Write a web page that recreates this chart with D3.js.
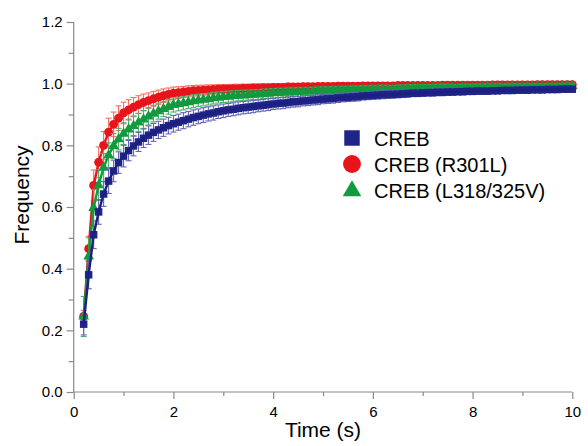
<!DOCTYPE html>
<html><head><meta charset="utf-8">
<script src="https://cdn.jsdelivr.net/npm/d3@7"></script>
<style>
html,body{margin:0;padding:0;background:#fff;}
svg text{font-family:"Liberation Sans",Arial,sans-serif;fill:#000;}
</style></head>
<body>
<svg id="chart" width="588" height="446"></svg>
<script>
const times = [0.2,0.3,0.4,0.5,0.6,0.7,0.8,0.9,1.0,
1.1,1.2,1.3,1.4,1.5,1.6,1.7,1.8,1.9,2.0,
2.1,2.2,2.3,2.4,2.5,2.6,2.7,2.8,2.9,3.0,
3.1,3.2,3.3,3.4,3.5,3.6,3.7,3.8,3.9,4.0,
4.1,4.2,4.3,4.4,4.5,4.6,4.7,4.8,4.9,5.0,
5.1,5.2,5.3,5.4,5.5,5.6,5.7,5.8,5.9,6.0,
6.1,6.2,6.3,6.4,6.5,6.6,6.7,6.8,6.9,7.0,
7.1,7.2,7.3,7.4,7.5,7.6,7.7,7.8,7.9,8.0,
8.1,8.2,8.3,8.4,8.5,8.6,8.7,8.8,8.9,9.0,
9.1,9.2,9.3,9.4,9.5,9.6,9.7,9.8,9.9,10.0];

const crebValues = [0.220,0.380,0.510,0.584,0.642,0.684,0.717,0.744,0.765,
0.783,0.798,0.811,0.823,0.833,0.842,0.850,0.857,0.864,0.870,
0.875,0.880,0.885,0.890,0.894,0.898,0.902,0.905,0.909,0.912,
0.915,0.917,0.920,0.922,0.924,0.926,0.928,0.930,0.932,0.934,
0.936,0.937,0.939,0.941,0.942,0.944,0.945,0.947,0.948,0.950,
0.951,0.952,0.954,0.955,0.956,0.957,0.958,0.960,0.961,0.962,
0.963,0.964,0.965,0.965,0.966,0.967,0.968,0.969,0.969,0.970,
0.971,0.971,0.972,0.972,0.973,0.973,0.974,0.974,0.975,0.975,
0.976,0.976,0.976,0.977,0.977,0.978,0.978,0.978,0.979,0.979,
0.979,0.980,0.980,0.980,0.981,0.981,0.981,0.982,0.982,0.982];

const crebErr = [0.035,0.045,0.045,0.040,0.040,0.040,0.035,0.035,0.035,
0.033,0.032,0.031,0.030,0.030,0.029,0.028,0.028,0.027,0.027,
0.026,0.026,0.025,0.025,0.024,0.024,0.023,0.023,0.022,0.022,
0.021,0.021,0.021,0.020,0.020,0.020,0.019,0.019,0.019,0.018,
0.018,0.018,0.017,0.017,0.017,0.016,0.016,0.016,0.016,0.015,
0.015,0.015,0.015,0.014,0.014,0.014,0.014,0.013,0.013,0.013,
0.013,0.013,0.013,0.012,0.012,0.012,0.012,0.011,0.011,0.011,
0.011,0.011,0.011,0.011,0.011,0.010,0.010,0.010,0.010,0.010,
0.010,0.010,0.010,0.010,0.010,0.009,0.009,0.009,0.009,0.009,
0.009,0.009,0.009,0.009,0.009,0.008,0.008,0.008,0.008,0.008];

const r301lValues = [0.245,0.465,0.670,0.745,0.800,0.843,0.868,0.888,0.905,
0.915,0.924,0.932,0.939,0.945,0.951,0.956,0.961,0.965,0.969,
0.971,0.973,0.975,0.977,0.978,0.979,0.980,0.981,0.982,0.983,
0.983,0.984,0.984,0.985,0.985,0.986,0.986,0.987,0.987,0.988,
0.988,0.988,0.989,0.989,0.989,0.990,0.990,0.990,0.991,0.991,
0.991,0.991,0.992,0.992,0.992,0.992,0.992,0.993,0.993,0.993,
0.993,0.993,0.993,0.993,0.994,0.994,0.994,0.994,0.994,0.994,
0.994,0.994,0.994,0.995,0.995,0.995,0.995,0.995,0.995,0.995,
0.995,0.995,0.995,0.996,0.996,0.996,0.996,0.996,0.996,0.996,
0.996,0.996,0.997,0.997,0.997,0.997,0.997,0.997,0.997,0.997];

const r301lErr = [0.020,0.040,0.050,0.050,0.045,0.045,0.040,0.040,0.035,
0.033,0.031,0.029,0.027,0.025,0.024,0.023,0.022,0.021,0.020,
0.019,0.018,0.018,0.017,0.017,0.016,0.016,0.015,0.015,0.014,
0.014,0.014,0.014,0.013,0.013,0.013,0.013,0.012,0.012,0.012,
0.012,0.012,0.012,0.011,0.011,0.011,0.011,0.010,0.010,0.010,
0.010,0.010,0.010,0.010,0.010,0.009,0.009,0.009,0.009,0.009,
0.009,0.009,0.009,0.009,0.009,0.008,0.008,0.008,0.008,0.008,
0.008,0.008,0.008,0.008,0.008,0.008,0.008,0.008,0.008,0.008,
0.007,0.007,0.007,0.007,0.007,0.007,0.007,0.007,0.007,0.007,
0.007,0.007,0.007,0.007,0.007,0.007,0.007,0.007,0.007,0.007];

const l318Values = [0.245,0.440,0.597,0.671,0.728,0.768,0.798,0.820,0.838,
0.852,0.863,0.874,0.884,0.894,0.903,0.911,0.918,0.925,0.931,
0.934,0.937,0.940,0.943,0.946,0.948,0.950,0.953,0.955,0.957,
0.958,0.960,0.961,0.962,0.963,0.964,0.965,0.967,0.968,0.969,
0.970,0.971,0.972,0.972,0.973,0.974,0.975,0.975,0.976,0.977,
0.977,0.978,0.978,0.979,0.979,0.980,0.980,0.981,0.981,0.982,
0.982,0.983,0.983,0.983,0.984,0.984,0.985,0.985,0.985,0.986,
0.986,0.986,0.987,0.987,0.987,0.987,0.987,0.988,0.988,0.988,
0.988,0.988,0.989,0.989,0.989,0.989,0.989,0.990,0.990,0.990,
0.990,0.990,0.991,0.991,0.991,0.991,0.991,0.992,0.992,0.992];

const l318Err = [0.065,0.060,0.060,0.050,0.045,0.040,0.040,0.035,0.035,
0.033,0.032,0.030,0.029,0.028,0.027,0.026,0.025,0.024,0.023,
0.022,0.022,0.021,0.021,0.020,0.020,0.019,0.019,0.018,0.018,
0.018,0.017,0.017,0.017,0.016,0.016,0.016,0.015,0.015,0.015,
0.015,0.014,0.014,0.014,0.014,0.013,0.013,0.013,0.013,0.013,
0.012,0.012,0.012,0.012,0.012,0.012,0.012,0.012,0.012,0.012,
0.012,0.012,0.011,0.011,0.011,0.011,0.011,0.011,0.011,0.011,
0.011,0.011,0.011,0.011,0.011,0.010,0.010,0.010,0.010,0.010,
0.010,0.010,0.010,0.010,0.010,0.010,0.010,0.010,0.010,0.010,
0.009,0.009,0.009,0.009,0.009,0.009,0.009,0.009,0.009,0.009];

const seriesNames = ["CREB", "CREB (R301L)", "CREB (L318/325V)"];
const xTickLabels = ["0","2","4","6","8","10"];
const yTickLabels = ["0.0","0.2","0.4","0.6","0.8","1.0","1.2"];

const series = [
  {name: seriesNames[1], values: r301lValues, err: r301lErr, color: "#e8131b", errColor: "#f0705e", lineColor: "#e8131b", symbol: d3.symbolCircle, size: 62, legendSize: 250},
  {name: seriesNames[2], values: l318Values, err: l318Err, color: "#129a3e", errColor: "#48b06a", lineColor: "#129a3e", symbol: d3.symbolTriangle, size: 50, legendSize: 150},
  {name: seriesNames[0], values: crebValues, err: crebErr, color: "#1f2488", errColor: "#6464b4", lineColor: "#1c1f7e", symbol: d3.symbolSquare, size: 56, legendSize: 240}
];

const svg = d3.select("#chart");
const margin = {left: 73.7, top: 22, right: 15.7, bottom: 54};
const W = 588, H = 446;
const x = d3.scaleLinear().domain([0, 10]).range([margin.left, W - margin.right]);
const y = d3.scaleLinear().domain([0, 1.2]).range([H - margin.bottom, margin.top]);
const axisColor = "#8a8a8a";

// axes
const xAxis = d3.axisBottom(x).tickValues(d3.range(0, 10.01, 1)).tickSize(6)
  .tickFormat(d => (Math.round(d) % 2 === 0 ? xTickLabels[Math.round(d) / 2] : ""));
const gx = svg.append("g").attr("transform", `translate(0,${y(0)})`).call(xAxis);
gx.selectAll(".tick line").attr("y2", (d) => Math.round(d) % 2 === 0 ? 7 : 4);
const yAxis = d3.axisLeft(y).tickValues(d3.range(0, 1.201, 0.1)).tickSize(6)
  .tickFormat(d => { const k = Math.round(d * 10); return k % 2 === 0 ? yTickLabels[k / 2] : ""; });
const gy = svg.append("g").attr("transform", `translate(${x(0)},0)`).call(yAxis);
gy.selectAll(".tick line").attr("x2", d => Math.round(d * 10) % 2 === 0 ? -7 : -5);
[gx, gy].forEach(g => {
  g.select(".domain").attr("stroke", axisColor).attr("stroke-width", 1.2);
  g.selectAll(".tick line").attr("stroke", axisColor).attr("stroke-width", 1.2);
  g.selectAll(".tick text").style("font-size", "15px").attr("fill", "#000")
    .style("font-family", '"Liberation Sans", Arial, sans-serif');
});
gx.select(".domain").attr("d", `M${x(0)},0H${x(10)}`);
gy.select(".domain").attr("d", `M0,${y(0)}V${y(1.2)}`);
gx.selectAll(".tick text").attr("dy", "1.05em");
gy.selectAll(".tick text").attr("x", -11);

// axis titles
svg.append("text").attr("x", (x(0) + x(10)) / 2 + 0).attr("y", 437)
  .attr("text-anchor", "middle").style("font-size", "21px").text("Time (s)");
svg.append("text").attr("transform", `translate(29,${(y(0) + y(1.2)) / 2 - 12}) rotate(-90)`)
  .attr("text-anchor", "middle").style("font-size", "21px").text("Frequency");

// series
series.forEach(s => {
  const pts = times.map((t, i) => ({t, v: s.values[i], e: s.err[i]}));
  const g = svg.append("g");
  const eb = g.append("g").attr("stroke", s.errColor).attr("stroke-width", 1.1).attr("fill", "none");
  pts.forEach(p => {
    const cx = x(p.t), y1 = y(p.v + p.e), y2 = y(p.v - p.e);
    eb.append("line").attr("x1", cx).attr("x2", cx).attr("y1", y1).attr("y2", y2);
    eb.append("line").attr("x1", cx - 3).attr("x2", cx + 3).attr("y1", y1).attr("y2", y1);
    eb.append("line").attr("x1", cx - 3).attr("x2", cx + 3).attr("y1", y2).attr("y2", y2);
  });
  g.append("g").selectAll("path").data(pts).join("path")
    .attr("transform", p => `translate(${x(p.t)},${y(p.v)})`)
    .attr("d", d3.symbol().type(s.symbol).size(s.size)())
    .attr("fill", s.color);
  g.append("path").datum(pts)
    .attr("d", d3.line().x(p => x(p.t)).y(p => y(p.v)))
    .attr("fill", "none").attr("stroke", s.lineColor).attr("stroke-width", 2.4);
});

// legend
const legendOrder = [series[2], series[0], series[1]];
const lg = svg.append("g");
legendOrder.forEach((s, i) => {
  const cy = 138 + i * 26;
  lg.append("path").attr("transform", `translate(352,${cy + (s.symbol === d3.symbolTriangle ? 1 : 0)})`)
    .attr("d", d3.symbol().type(s.symbol).size(s.legendSize)()).attr("fill", s.color);
  lg.append("text").attr("x", 374).attr("y", cy + 7.5).style("font-size", "20px").text(s.name);
});
</script>
</body></html>
